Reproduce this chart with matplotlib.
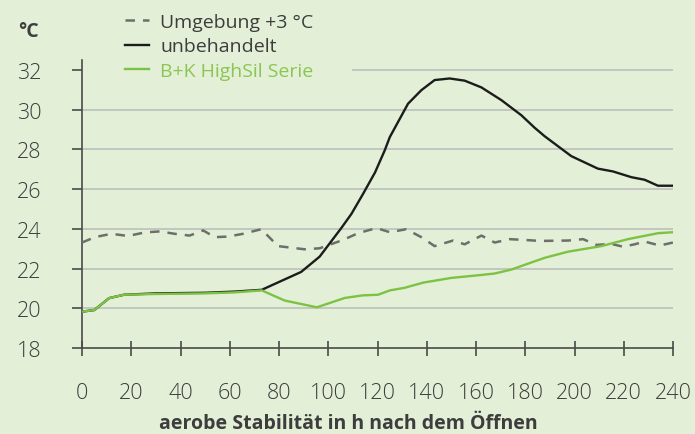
import matplotlib.pyplot as plt
import numpy as np

# ---------- data ----------
h_umgebung = [0, 5.2, 11.9, 18.7, 25.5, 31.6, 37.6, 43.7, 49.2, 53.9, 59.3, 65.4, 72.8,
              79.6, 90.4, 96.5, 106, 112.1, 119.6, 125, 131.7, 137.8, 143.2, 150.7,
              155.4, 162.2, 167.6, 173.7, 179.8, 186, 197.4, 203.5, 208.9, 215,
              219.7, 224.4, 228.5, 234.6, 240]
t_umgebung = [23.31, 23.58, 23.75, 23.64, 23.82, 23.87, 23.75, 23.66, 23.92, 23.58, 23.61,
              23.75, 23.98, 23.13, 22.97, 23.02, 23.44, 23.78, 24.04, 23.83, 23.98,
              23.58, 23.13, 23.41, 23.22, 23.66, 23.31, 23.48, 23.44, 23.39, 23.41,
              23.48, 23.19, 23.24, 23.10, 23.22, 23.36, 23.16, 23.31]

h_unbeh = [0, 5, 11, 17, 30, 50, 62, 73, 89, 96.5, 100.6, 105.3, 109.4, 114, 119, 122.9,
           125, 132.4, 137.8, 143.2, 149.3, 155.4, 162.2, 170.3, 178.4, 183.8, 187.9,
           198.7, 209.5, 215.6, 223.1, 228.5, 233.9, 240]
t_unbeh = [19.83, 19.91, 20.51, 20.68, 20.75, 20.78, 20.84, 20.93, 21.83, 22.6, 23.27,
           24.04, 24.75, 25.73, 26.84, 27.94, 28.62, 30.30, 30.98, 31.49, 31.57, 31.46,
           31.12, 30.48, 29.72, 29.09, 28.66, 27.66, 27.03, 26.89, 26.6, 26.47, 26.17,
           26.17]

h_highsil = [0, 5, 11, 17, 30, 50, 62, 73, 82.3, 95.4, 106.7, 114, 120.2, 125, 131,
             138.5, 150, 160.8, 167.6, 174.4, 181.2, 187.9, 197.4, 210.9, 221.7, 233.9, 240]
t_highsil = [19.83, 19.91, 20.51, 20.68, 20.72, 20.75, 20.8, 20.9, 20.39, 20.05, 20.52,
             20.65, 20.68, 20.9, 21.03, 21.29, 21.53, 21.66, 21.75, 21.95, 22.25, 22.54,
             22.85, 23.13, 23.48, 23.78, 23.83]

x_ticks = np.arange(0, 241, 20)
y_ticks = np.arange(18, 33, 2)

bg = '#e3efd7'
txt = '#3d3d3d'
green = '#7cc243'

plt.rcParams['font.family'] = ['Open Sans', 'DejaVu Sans']

fig = plt.figure(figsize=(6.95, 4.35), dpi=100, facecolor=bg)
ax = fig.add_axes([82 / 695, 1 - 349 / 435, 591 / 695, (349 - 61) / 435])
ax.set_facecolor(bg)

# grid (the top line is hidden behind the legend in the original)
for v in y_ticks[1:]:
    xmin = 0.459 if v == 32 else 0
    ax.axhline(v, xmin=xmin, xmax=1, color='#c3c6c1', lw=1.4, zorder=1)

ax.plot(h_umgebung, t_umgebung, color='#6e6e6a', lw=1.8, dashes=(3.8, 3.2),
        label='Umgebung +3 °C', zorder=3)
ax.plot(h_unbeh, t_unbeh, color='#1c1c1c', lw=1.7, label='unbehandelt', zorder=4)
ax.plot(h_highsil, t_highsil, color=green, lw=1.7, label='B+K HighSil Serie', zorder=5)

ax.set_xlim(0, 240)
ax.set_ylim(18, 32.5)
ax.set_xticks(x_ticks)
ax.set_yticks(y_ticks)
for s in ['top', 'right']:
    ax.spines[s].set_visible(False)
for s in ['left', 'bottom']:
    ax.spines[s].set_color('#4a4a4a')
    ax.spines[s].set_linewidth(1.2)
ax.tick_params(axis='y', direction='out', length=7.2, width=1.2, color='#4a4a4a',
               labelsize=15.5, labelcolor=txt, pad=22)
ax.tick_params(axis='x', direction='inout', length=10.8, width=1.2, color='#4a4a4a',
               labelsize=15.5, labelcolor=txt, pad=19)
for t in ax.get_xticklabels() + ax.get_yticklabels():
    t.set_fontweight('light')

leg = fig.legend(loc='upper left', bbox_to_anchor=(125 / 695, 1 - 14 / 435),
                 frameon=False, fontsize=14, handlelength=1.25, handletextpad=0.55,
                 labelspacing=0.33, borderaxespad=0, borderpad=0)
for t in leg.get_texts():
    t.set_color(txt)
leg.get_texts()[2].set_color('#8bc653')

fig.text(18 / 695, 1 - 32 / 435, '°C', fontsize=14, fontweight='bold', color=txt,
         ha='left', va='center')
fig.text(348 / 695, 1 - 424 / 435, 'aerobe Stabilität in h nach dem Öffnen',
         fontsize=14, fontweight='bold', color=txt, ha='center', va='center')

fig.savefig('out.png', dpi=100, facecolor=bg)
